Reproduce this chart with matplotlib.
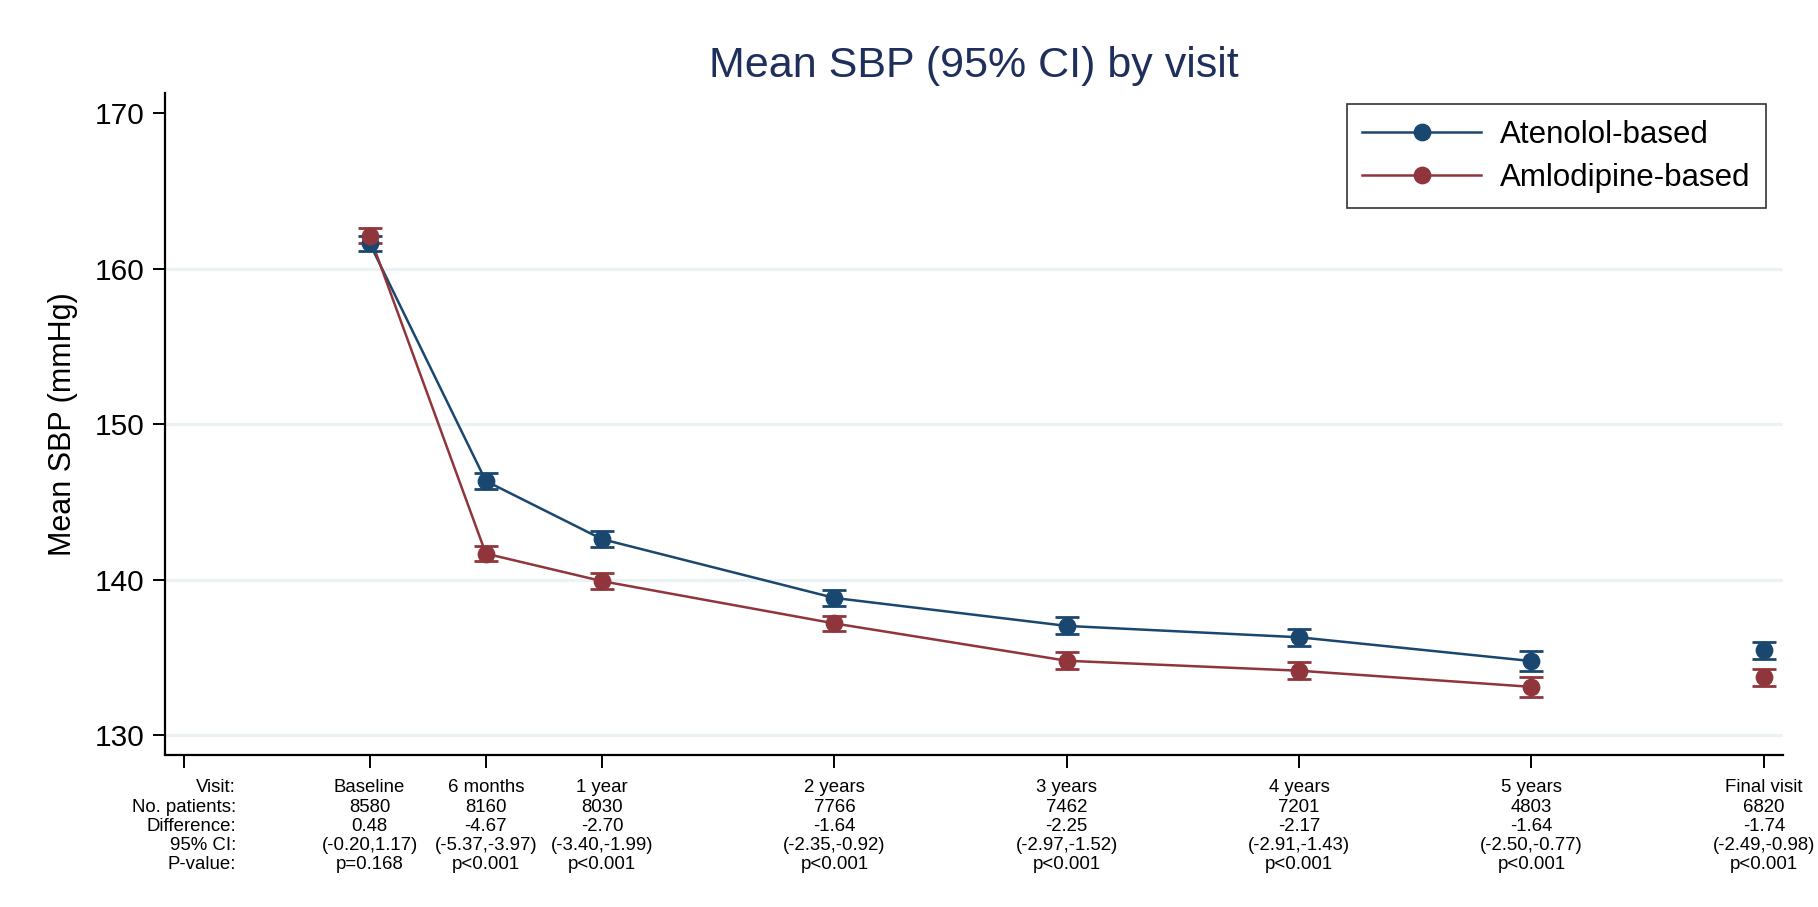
import matplotlib
matplotlib.use("Agg")
import matplotlib.pyplot as plt
from matplotlib.lines import Line2D

plt.rcParams['font.family'] = ['Liberation Sans', 'DejaVu Sans']

# ---------------- data ----------------
visits = ['Baseline', '6 months', '1 year', '2 years', '3 years', '4 years', '5 years', 'Final visit']
visit_month = [0, 6, 12, 24, 36, 48, 60, 72]
label_col_month = -9.6

aten_mean = [161.65, 146.36, 142.62, 138.84, 137.04, 136.31, 134.78, 135.47]
aten_half = [0.49, 0.49, 0.51, 0.53, 0.55, 0.55, 0.64, 0.56]
amlo_mean = [162.13, 141.69, 139.92, 137.20, 134.80, 134.16, 133.12, 133.74]
amlo_half = [0.48, 0.48, 0.50, 0.50, 0.55, 0.56, 0.62, 0.54]

n_patients = [8580, 8160, 8030, 7766, 7462, 7201, 4803, 6820]
difference = [0.48, -4.67, -2.70, -1.64, -2.25, -2.17, -1.64, -1.74]
ci_low = [-0.20, -5.37, -3.40, -2.35, -2.97, -2.91, -2.50, -2.49]
ci_high = [1.17, -3.97, -1.99, -0.92, -1.52, -1.43, -0.77, -0.98]
p_text = ['p=0.168', 'p<0.001', 'p<0.001', 'p<0.001', 'p<0.001', 'p<0.001', 'p<0.001', 'p<0.001']
row_labels = ['Visit:', 'No. patients:', 'Difference:', '95% CI:', 'P-value:']

series_names = ['Atenolol-based', 'Amlodipine-based']
blue = '#1a476f'
red = '#90353b'

y_ticks = [130, 140, 150, 160, 170]
grid_vals = [130, 140, 150, 160]

# ---------------- figure ----------------
W, H = 1818, 907
fig = plt.figure(figsize=(W / 100, H / 100), dpi=100)
fig.patch.set_facecolor('white')
ax = fig.add_axes([165 / W, 1 - 754.5 / H, (1782.6 - 165) / W, (754.5 - 93.4) / H])

ax.set_xlim(-10.57, 72.97)
ax.set_ylim(128.77, 171.29)

for g in grid_vals:
    ax.axhline(g, color='#eaf2f3', lw=2.2, zorder=0)

n_conn = 7  # connected visits (baseline .. 5 years); final visit shown separately
for mean, half, col, name in [(aten_mean, aten_half, blue, series_names[0]),
                              (amlo_mean, amlo_half, red, series_names[1])]:
    ax.errorbar(visit_month, mean, yerr=half, fmt='none', ecolor=col,
                elinewidth=1.7, capsize=8.3, capthick=2.0, zorder=3)
    ax.plot(visit_month[:n_conn], mean[:n_conn], color=col, lw=1.8, zorder=2)
    ax.plot(visit_month, mean, linestyle='none', marker='o', ms=11.8,
            color=col, zorder=4)

# spines
for s in ['top', 'right']:
    ax.spines[s].set_visible(False)
for s in ['left', 'bottom']:
    ax.spines[s].set_linewidth(1.6)
    ax.spines[s].set_color('black')

ax.set_yticks(y_ticks)
ax.set_yticklabels([str(v) for v in y_ticks])
ax.tick_params(axis='y', length=9, width=1.4, pad=6, labelsize=21.5)

# x tick labels (table)
col_texts = ['\n'.join(row_labels)]
for i in range(len(visits)):
    col_texts.append('\n'.join([
        visits[i],
        str(n_patients[i]),
        f'{difference[i]:.2f}',
        f'({ci_low[i]:.2f},{ci_high[i]:.2f})',
        p_text[i],
    ]))
ax.set_xticks([label_col_month] + visit_month)
ax.set_xticklabels(col_texts)
ax.tick_params(axis='x', length=9, width=1.4, pad=9, labelsize=13.4)
for k, lab in enumerate(ax.get_xticklabels()):
    lab.set_linespacing(1.16)
    lab.set_multialignment('right' if k == 0 else 'center')

ax.set_ylabel('Mean SBP (mmHg)', fontsize=22)
ax.yaxis.set_label_coords((78 - 165) / (1782.6 - 165), 0.5)

fig.text((165 + 1782.6) / 2 / W, 1 - 77.3 / H, 'Mean SBP (95% CI) by visit',
         ha='center', va='baseline', fontsize=31, color='#1f2f5c')

handles = [Line2D([], [], color=blue, lw=1.8, marker='o', ms=11.8),
           Line2D([], [], color=red, lw=1.8, marker='o', ms=11.8)]
leg = fig.legend(handles, series_names, loc='upper right',
                 bbox_to_anchor=(1766 / W, 1 - 104 / H), fontsize=22.5,
                 frameon=True, fancybox=False, edgecolor='black',
                 handlelength=3.8, handletextpad=0.6, labelspacing=0.42,
                 borderpad=0.5, borderaxespad=0)
leg.get_frame().set_linewidth(1.2)

fig.savefig('out.png', dpi=100, facecolor='white')
